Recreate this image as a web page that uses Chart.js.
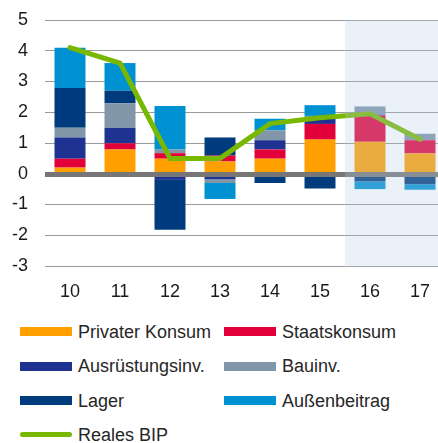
<!DOCTYPE html>
<html lang="de">
<head>
<meta charset="UTF-8">
<title>BIP Wachstumsbeiträge</title>
<script src="https://cdn.jsdelivr.net/npm/chart.js"></script>
<style>
    body {
        margin: 0;
        background: #fff;
        font-family: "Liberation Sans", Arial, sans-serif;
    }
    .wrap {
        position: relative;
        width: 438px;
        height: 443px;
        overflow: hidden;
    }
    #chart {
        position: absolute;
        left: 0;
        top: 0;
    }
    .legend-item {
        position: absolute;
        font-size: 18px;
        color: #262626;
        white-space: nowrap;
        line-height: 20px;
    }
    .legend-item .swatch {
        position: absolute;
        left: 0;
        width: 52px;
    }
    .legend-item span.text {
        position: absolute;
        left: 58px;
        top: 0;
    }
</style>
</head>
<body>
<div class="wrap">
    <canvas id="chart" width="460" height="300"></canvas>
    <div id="legend"></div>
</div>
<script>
// categories (years) and values
const categories = ['10', '11', '12', '13', '14', '15', '16', '17'];
const privaterKonsum = [0.2, 0.79, 0.49, 0.4, 0.49, 1.11, 1.04, 0.66];
const staatskonsum = [0.29, 0.2, 0.18, 0.19, 0.3, 0.51, 0.85, 0.43];
const ausruestungsinv = [0.69, 0.5, -0.2, -0.18, 0.3, 0.17, 0.03, -0.03];
const bauinv = [0.32, 0.8, 0.12, -0.12, 0.32, 0.09, 0.27, 0.21];
const lager = [1.29, 0.41, -1.62, 0.59, -0.3, -0.48, -0.25, -0.31];
const aussenbeitrag = [1.31, 0.9, 1.41, -0.52, 0.38, 0.35, -0.25, -0.18];
const realesBip = [4.1, 3.6, 0.5, 0.5, 1.63, 1.82, 1.95, 1.12];
const yTicks = [-3, -2, -1, 0, 1, 2, 3, 4, 5];
const forecastFrom = '16'; // shaded forecast years

const FONT = '"Liberation Sans", Arial, sans-serif';

function bar(label, data, color) {
    return {
        type: 'bar',
        label: label,
        data: data,
        backgroundColor: color,
        borderWidth: 0,
        stack: 'bip',
        order: 2
    };
}

const datasets = [
    bar('Privater Konsum', privaterKonsum, '#FFA000'),
    bar('Staatskonsum', staatskonsum, '#E2003A'),
    bar('Ausrüstungsinv.', ausruestungsinv, '#1E3291'),
    bar('Bauinv.', bauinv, '#8296AA'),
    bar('Lager', lager, '#003C7D'),
    bar('Außenbeitrag', aussenbeitrag, '#0091D2'),
    {
        type: 'line',
        label: 'Reales BIP',
        data: realesBip,
        borderColor: '#78B800',
        backgroundColor: '#78B800',
        borderWidth: 5,
        borderCapStyle: 'round',
        pointRadius: 0,
        tension: 0,
        order: 1
    }
];

// zero line above the bars, then the pale forecast overlay on top of everything
const forecastPlugin = {
    id: 'forecast',
    afterDatasetsDraw(chart) {
        const { ctx, chartArea, scales } = chart;
        const y0 = Math.round(scales.y.getPixelForValue(0));
        ctx.save();
        ctx.fillStyle = '#777777';
        ctx.fillRect(chartArea.left, y0 - 2, chartArea.right - chartArea.left, 5);

        const i = categories.indexOf(forecastFrom);
        const xStart = (scales.x.getPixelForValue(i - 1) + scales.x.getPixelForValue(i)) / 2;
        ctx.fillStyle = 'rgba(178, 204, 229, 0.275)';
        ctx.fillRect(xStart, chartArea.top, chartArea.right - xStart, chartArea.bottom - chartArea.top + 1);
        ctx.restore();
    }
};

const chart = new Chart(document.getElementById('chart'), {
    data: { labels: categories, datasets: datasets },
    options: {
        responsive: false,
        animation: false,
        layout: { autoPadding: false, padding: { top: 20, right: 15, bottom: 0, left: 0 } },
        plugins: {
            legend: { display: false },
            tooltip: { enabled: false }
        },
        datasets: {
            bar: { categoryPercentage: 1, barPercentage: 0.62 }
        },
        scales: {
            x: {
                stacked: true,
                grid: { display: false, drawTicks: false },
                border: { display: false },
                ticks: {
                    padding: 15,
                    color: '#1a1a1a',
                    font: { family: FONT, size: 18 }
                },
                afterFit(scale) { scale.height = 34; }
            },
            y: {
                stacked: true,
                min: yTicks[0],
                max: yTicks[yTicks.length - 1],
                afterBuildTicks(scale) {
                    scale.ticks = yTicks.map(v => ({ value: v }));
                },
                grid: {
                    drawTicks: false,
                    color: '#9a9a9a',
                    lineWidth: 1
                },
                border: { display: false },
                ticks: {
                    padding: 17,
                    color: '#1a1a1a',
                    font: { family: FONT, size: 18 }
                },
                afterFit(scale) {
                    scale.width = 45;
                    scale.paddingTop = 0;
                    scale.paddingBottom = 0;
                }
            }
        }
    },
    plugins: [forecastPlugin]
});

// two-column legend built from the datasets
const legend = document.getElementById('legend');
const rowY = [331.5, 366, 400.5, 434.5];
const colX = [20, 224];
datasets.forEach((ds, k) => {
    const item = document.createElement('div');
    item.className = 'legend-item';
    item.style.left = colX[k % 2] + 'px';
    item.style.top = (rowY[Math.floor(k / 2)] - 10) + 'px';
    const sw = document.createElement('div');
    sw.className = 'swatch';
    if (ds.type === 'line') {
        sw.style.height = '5px';
        sw.style.top = '7.5px';
        sw.style.borderRadius = '3px';
        sw.style.background = ds.borderColor;
    } else {
        sw.style.height = '9px';
        sw.style.top = '5.5px';
        sw.style.background = ds.backgroundColor;
    }
    const tx = document.createElement('span');
    tx.className = 'text';
    tx.textContent = ds.label;
    item.appendChild(sw);
    item.appendChild(tx);
    legend.appendChild(item);
});
</script>
</body>
</html>
